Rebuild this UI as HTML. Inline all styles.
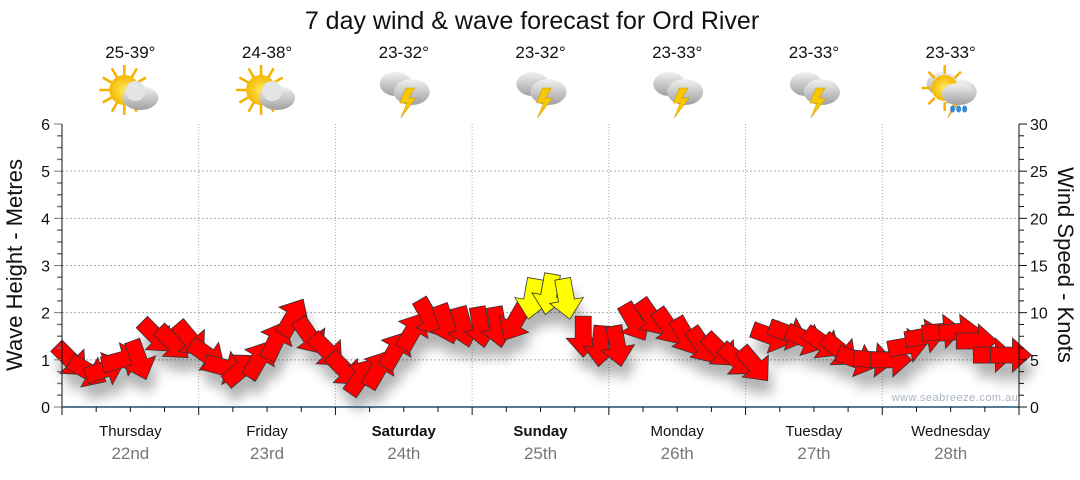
<!DOCTYPE html>
<html><head><meta charset="utf-8"><style>
body{margin:0;background:#fff;width:1080px;height:475px;overflow:hidden;font-family:"Liberation Sans","DejaVu Sans",sans-serif}
</style></head><body>
<svg id="c" width="1080" height="475" font-family="Liberation Sans, DejaVu Sans, sans-serif">
<defs>
<filter id="sh" x="-50%" y="-50%" width="200%" height="200%"><feGaussianBlur stdDeviation="6"/></filter>
<radialGradient id="sun" cx="0.5" cy="0.5" r="0.5"><stop offset="0" stop-color="#ffe860"/><stop offset="1" stop-color="#f5b800"/></radialGradient>
<linearGradient id="cl" x1="0" y1="0" x2="0" y2="1"><stop offset="0" stop-color="#f2f2f2"/><stop offset="1" stop-color="#a0a0a0"/></linearGradient>
</defs>
<text x="532" y="29" text-anchor="middle" font-size="25" fill="#111">7 day wind &amp; wave forecast for Ord River</text>
<g id="grid"></g><g id="icons"></g><g id="shadows" filter="url(#sh)" opacity="0.3"></g><g id="arrows"></g><g id="axes"></g>
<text x="955" y="401" text-anchor="middle" font-size="11" fill="#aab4c0" letter-spacing="0.5">www.seabreeze.com.au</text>
<text transform="translate(22,265) rotate(-90)" text-anchor="middle" font-size="22" fill="#111">Wave Height - Metres</text>
<text transform="translate(1058,265) rotate(90)" text-anchor="middle" font-size="22" fill="#111">Wind Speed - Knots</text>
</svg>
<script>
const days=["Thursday","Friday","Saturday","Sunday","Monday","Tuesday","Wednesday"];
const dates=["22nd","23rd","24th","25th","26th","27th","28th"];
const temps=["25-39°","24-38°","23-32°","23-32°","23-33°","23-33°","23-33°"];
const icons=["sun","sun","storm","storm","storm","storm","rain"];
const leftTicks=[0,1,2,3,4,5,6];
const rightTicks=[0,5,10,15,20,25,30];
const windKnots=[5,3.8,4,5,5,7.5,6.8,7.2, 5.5,4.2,4,5,7,9.5,7.5,6, 4,3.2,4,6,8,9.5,8.8,8.5, 8.5,8.5,9,11.5,12,11.5,7.5,6.5, 6.5,9,9.5,8.5,7.5,6.5,6,5, 4.5,7.5,7.8,7.2,6.8,6,5,5, 5,6.5,7.5,8,8,7,5.5,5.5];
const windAngle=[45,30,-20,-15,70,45,45,50, 35,15,-40,-60,-65,-60,55,45, 45,-55,-60,-60,-60,60,70,75, 80,80,120,100,100,80,90,95, 80,60,55,55,60,55,45,40, 50,20,20,25,35,40,20,5, 0,-10,-10,-5,-5,0,0,0];
const storm=[0,0,0,0,0,0,0,0, 0,0,0,0,0,0,0,0, 0,0,0,0,0,0,0,0, 0,0,0,1,1,1,0,0, 0,0,0,0,0,0,0,0, 0,0,0,0,0,0,0,0, 0,0,0,0,0,0,0,0];
const NS="http://www.w3.org/2000/svg";
const X0=62,X1=1019,Y0=407,Y1=124,DW=(X1-X0)/7;
const ym=v=>Y0-(Y0-Y1)*v/6, yk=v=>Y0-(Y0-Y1)*v/30, xs=i=>X0+(i+0.5)*DW/8;
function mk(t,a,p){const e=document.createElementNS(NS,t);for(const k in a)e.setAttribute(k,a[k]);(p||document.getElementById('axes')).appendChild(e);return e;}
const g=document.getElementById('grid'),ax=document.getElementById('axes');
leftTicks.forEach(v=>{if(v>0&&v<6){const l=mk('line',{x1:X0,x2:X1,y1:ym(v),y2:ym(v),stroke:'#aaa','stroke-dasharray':'2,2'},g);

}
const t=mk('text',{x:X0-12,y:ym(v)+6,'text-anchor':'end','font-size':16,fill:'#111'},ax);t.textContent=v;

});
rightTicks.forEach(v=>{const t=mk('text',{x:X1+11,y:yk(v)+6,'font-size':16,fill:'#111'},ax);t.textContent=v;

});
for(let m=0;m<=24;m++){mk('line',{x1:X0-(m%4?5:8),x2:X0,y1:ym(m/4),y2:ym(m/4),stroke:'#777','stroke-width':m%4?1.5:1});mk('line',{x1:X1,x2:X1+(m%4?5:8),y1:ym(m/4),y2:ym(m/4),stroke:'#111'});}
mk('line',{x1:X0,x2:X0,y1:Y1,y2:Y0,stroke:'#111'});mk('line',{x1:X1,x2:X1,y1:Y1,y2:Y0,stroke:'#111'});
mk('line',{x1:X0,x2:X1,y1:Y0,y2:Y0,stroke:'#1d4f73','stroke-width':1.5});
for(let d=0;d<=7;d++){const x=X0+d*DW;if(d>0&&d<7){const l=mk('line',{x1:x,x2:x,y1:Y1,y2:Y0,stroke:'#aaa','stroke-dasharray':'1,2'},g);

}
mk('line',{x1:x,x2:x,y1:Y0,y2:Y0+8,stroke:'#111'});
if(d<7)for(let q=1;q<4;q++)mk('line',{x1:x+q*DW/4,x2:x+q*DW/4,y1:Y0,y2:Y0+5,stroke:'#111'});}
const ic=document.getElementById('icons');
days.forEach((d,i)=>{const cx=X0+(i+0.5)*DW;
const a=mk('text',{x:cx,y:436,'text-anchor':'middle','font-size':15,fill:'#111','font-weight':(i==2||i==3)?'bold':'normal'},ax);a.textContent=d;


const b=mk('text',{x:cx,y:459,'text-anchor':'middle','font-size':17,fill:'#777'},ax);b.textContent=dates[i];


const t=mk('text',{x:cx,y:58,'text-anchor':'middle','font-size':17,fill:'#111'},ic);t.textContent=temps[i];


const w=mk('g',{transform:`translate(${cx},94)`},ic);


if(icons[i]=='sun'){for(let k=0;k<12;k++){const an=k*30*Math.PI/180;
mk('line',{x1:-6+10*Math.cos(an),y1:-4+10*Math.sin(an),x2:-6+25*Math.cos(an),y2:-4+25*Math.sin(an),stroke:'#f5b000','stroke-width':2.5},w);}
mk('circle',{cx:-6,cy:-4,r:15,fill:'url(#sun)'},w);
mk('ellipse',{cx:10,cy:4,rx:18,ry:12,fill:'url(#cl)'},w);mk('circle',{cx:5,cy:-3,r:10,fill:'#e4e4e4'},w);}
else{mk('ellipse',{cx:-8,cy:-10,rx:16,ry:12,fill:'url(#cl)'},w);mk('ellipse',{cx:8,cy:-2,rx:18,ry:13,fill:'url(#cl)'},w);
mk('polygon',{points:'2,-6 11,-6 5,4 12,4 -3,24 3,9 -4,9',fill:'#f6c800',stroke:'#d09000','stroke-width':0.5},w);
if(icons[i]=='rain'){mk('circle',{cx:-6,cy:-6,r:13,fill:'url(#sun)'},w);for(let k=0;k<8;k++){const an=k*45*Math.PI/180;mk('line',{x1:-6+14*Math.cos(an),y1:-6+14*Math.sin(an),x2:-6+23*Math.cos(an),y2:-6+23*Math.sin(an),stroke:'#f5b000','stroke-width':2.5},w);}
mk('ellipse',{cx:8,cy:0,rx:17,ry:11,fill:'url(#cl)'},w);[2,8,14].forEach(x=>mk('ellipse',{cx:x,cy:15,rx:2.5,ry:3.5,fill:'#3a8ad8'},w));}}
});
const ar=document.getElementById('arrows'),sh=document.getElementById('shadows');
const shape='-20,-8 2,-8 2,-17 21,0 2,17 2,8 -20,8';
windKnots.forEach((v,i)=>{const x=xs(i),y=yk(v),a=windAngle[i];
const s=mk('polygon',{points:shape,fill:'#000',transform:`translate(${x+4},${y+14}) rotate(${a})`},sh);


const p=mk('polygon',{points:shape,fill:storm[i]?'#ffff00':'#ff0000',stroke:'#333','stroke-width':0.8,transform:`translate(${x},${y}) rotate(${a})`},ar);

});
</script>
</body></html>
